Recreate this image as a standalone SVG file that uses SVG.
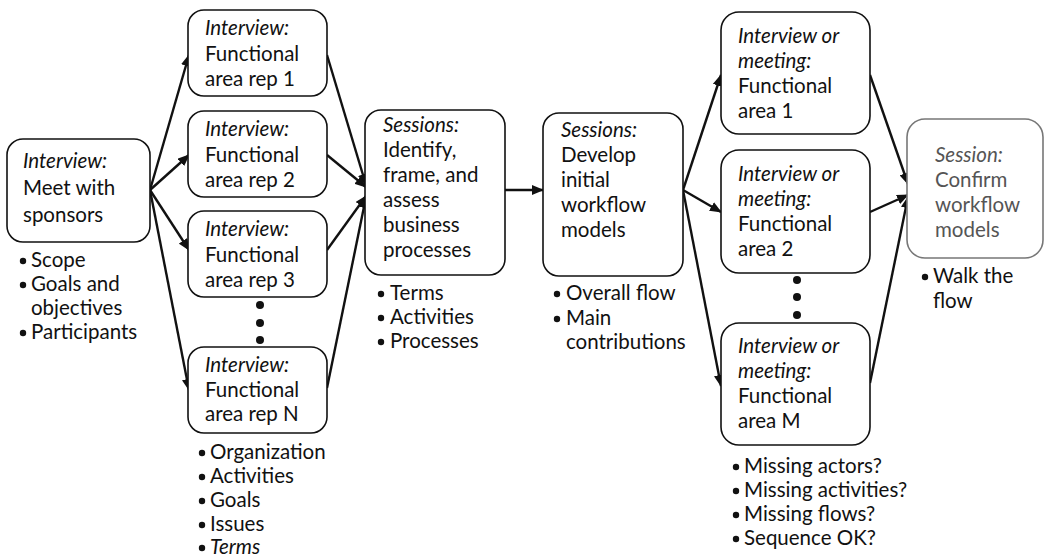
<svg xmlns="http://www.w3.org/2000/svg" width="1045" height="559" viewBox="0 0 1045 559">
  <defs>
    <marker id="arrow" viewBox="0 0 12 10" refX="11" refY="5" markerWidth="12" markerHeight="10" markerUnits="userSpaceOnUse" orient="auto">
      <path d="M0,0 L12,5 L0,10 z" fill="#111"/>
    </marker>
    <style>
      .box { fill: #fff; stroke: #111; stroke-width: 1.6; }
      .box.muted { stroke: #777; }
      text { font-family: Lato, "Open Sans", "DejaVu Sans", sans-serif; font-size: 20.5px; fill: #111; }
      .it { font-style: italic; }
      .muted text, text.muted { fill: #555; }
      .dot { fill: #111; }
      .conn line { stroke: #111; stroke-width: 2.4; marker-end: url(#arrow); }
    </style>
  </defs>

  <rect width="1045" height="559" fill="#fff"/>

  <!-- connectors -->
  <g id="connectors" class="conn">
    <line x1="150" y1="190" x2="189" y2="55"/>
    <line x1="150" y1="190" x2="189" y2="155"/>
    <line x1="150" y1="190" x2="189" y2="250"/>
    <line x1="150" y1="190" x2="189" y2="390"/>
    <line x1="327" y1="55" x2="366" y2="185"/>
    <line x1="327" y1="155" x2="366" y2="187"/>
    <line x1="327" y1="250" x2="366" y2="196"/>
    <line x1="327" y1="388" x2="366" y2="197"/>
    <line x1="505" y1="190" x2="543" y2="190"/>
    <line x1="683" y1="190" x2="721" y2="75"/>
    <line x1="683" y1="190" x2="721" y2="212"/>
    <line x1="683" y1="190" x2="721" y2="386"/>
    <line x1="870" y1="75" x2="908" y2="184"/>
    <line x1="870" y1="212" x2="908" y2="195"/>
    <line x1="870" y1="383" x2="908" y2="197"/>
  </g>

  <!-- kickoff with sponsors -->
  <g id="meet-sponsors">
    <rect class="box" x="7" y="139" width="143" height="103" rx="16"/>
    <text x="23" y="168" class="it">Interview:</text>
    <text x="23" y="195">Meet with</text>
    <text x="23" y="222">sponsors</text>
    <circle class="dot" cx="23" cy="261" r="3.2"/>
    <text x="31" y="267">Scope</text>
    <circle class="dot" cx="23" cy="285" r="3.2"/>
    <text x="31" y="291">Goals and</text>
    <text x="31" y="315">objectives</text>
    <circle class="dot" cx="23" cy="333" r="3.2"/>
    <text x="31" y="339">Participants</text>
  </g>

  <!-- interviews with functional area reps -->
  <g id="rep-1">
    <rect class="box" x="188" y="10" width="139" height="86" rx="16"/>
    <text x="205" y="35" class="it">Interview:</text>
    <text x="205" y="61">Functional</text>
    <text x="205" y="86">area rep 1</text>
  </g>
  <g id="rep-2">
    <rect class="box" x="188" y="111" width="139" height="86" rx="16"/>
    <text x="205" y="136" class="it">Interview:</text>
    <text x="205" y="162">Functional</text>
    <text x="205" y="187">area rep 2</text>
  </g>
  <g id="rep-3">
    <rect class="box" x="188" y="211" width="139" height="86" rx="16"/>
    <text x="205" y="236" class="it">Interview:</text>
    <text x="205" y="262">Functional</text>
    <text x="205" y="287">area rep 3</text>
  </g>
  <g id="rep-ellipsis">
    <circle class="dot" cx="260" cy="305" r="4"/>
    <circle class="dot" cx="260" cy="323" r="4"/>
    <circle class="dot" cx="260" cy="340" r="4"/>
  </g>
  <g id="rep-n">
    <rect class="box" x="188" y="347" width="139" height="86" rx="16"/>
    <text x="205" y="372" class="it">Interview:</text>
    <text x="205" y="397">Functional</text>
    <text x="205" y="421" fill="#333">area rep N</text>
    <circle class="dot" cx="202" cy="453" r="3.2"/>
    <text x="210" y="459">Organization</text>
    <circle class="dot" cx="202" cy="477" r="3.2"/>
    <text x="210" y="483">Activities</text>
    <circle class="dot" cx="202" cy="501" r="3.2"/>
    <text x="210" y="507">Goals</text>
    <circle class="dot" cx="202" cy="525" r="3.2"/>
    <text x="210" y="531">Issues</text>
    <circle class="dot" cx="202" cy="548" r="3.2"/>
    <text x="210" y="554" class="it">Terms</text>
  </g>

  <!-- process identification sessions -->
  <g id="identify-processes">
    <rect class="box" x="365" y="110" width="140" height="165" rx="16"/>
    <text x="383" y="132" class="it">Sessions:</text>
    <text x="383" y="157">Identify,</text>
    <text x="383" y="182">frame, and</text>
    <text x="383" y="207">assess</text>
    <text x="383" y="232">business</text>
    <text x="383" y="257">processes</text>
    <circle class="dot" cx="381" cy="294" r="3.2"/>
    <text x="390" y="300">Terms</text>
    <circle class="dot" cx="381" cy="318" r="3.2"/>
    <text x="390" y="324">Activities</text>
    <circle class="dot" cx="381" cy="342" r="3.2"/>
    <text x="390" y="348">Processes</text>
  </g>

  <!-- workflow modelling sessions -->
  <g id="develop-workflow">
    <rect class="box" x="543" y="113" width="140" height="163" rx="16"/>
    <text x="561" y="137" class="it">Sessions:</text>
    <text x="561" y="162">Develop</text>
    <text x="561" y="187">initial</text>
    <text x="561" y="212">workflow</text>
    <text x="561" y="237">models</text>
    <circle class="dot" cx="557" cy="294" r="3.2"/>
    <text x="566" y="300">Overall flow</text>
    <circle class="dot" cx="557" cy="319" r="3.2"/>
    <text x="566" y="325">Main</text>
    <text x="566" y="349">contributions</text>
  </g>

  <!-- reviews per functional area -->
  <g id="area-1">
    <rect class="box" x="721" y="12" width="149" height="122" rx="18"/>
    <text x="738" y="43" class="it">Interview or</text>
    <text x="738" y="68" class="it">meeting:</text>
    <text x="738" y="93">Functional</text>
    <text x="738" y="118">area 1</text>
  </g>
  <g id="area-2">
    <rect class="box" x="721" y="150" width="149" height="123" rx="18"/>
    <text x="738" y="181" class="it">Interview or</text>
    <text x="738" y="206" class="it">meeting:</text>
    <text x="738" y="231">Functional</text>
    <text x="738" y="256">area 2</text>
  </g>
  <g id="area-ellipsis">
    <circle class="dot" cx="797" cy="280" r="4"/>
    <circle class="dot" cx="797" cy="297" r="4"/>
    <circle class="dot" cx="797" cy="315" r="4"/>
  </g>
  <g id="area-m">
    <rect class="box" x="721" y="323" width="149" height="122" rx="18"/>
    <text x="738" y="353" class="it">Interview or</text>
    <text x="738" y="378" class="it">meeting:</text>
    <text x="738" y="403">Functional</text>
    <text x="738" y="428">area M</text>
    <circle class="dot" cx="736" cy="467" r="3.2"/>
    <text x="744" y="473">Missing actors?</text>
    <circle class="dot" cx="736" cy="491" r="3.2"/>
    <text x="744" y="497">Missing activities?</text>
    <circle class="dot" cx="736" cy="515" r="3.2"/>
    <text x="744" y="521">Missing flows?</text>
    <circle class="dot" cx="736" cy="539" r="3.2"/>
    <text x="744" y="545">Sequence OK?</text>
  </g>

  <!-- confirmation session -->
  <g id="confirm-models">
    <g class="muted">
      <rect class="box muted" x="907" y="119" width="136" height="139" rx="18"/>
      <text x="935" y="162" class="it">Session:</text>
      <text x="935" y="187">Confirm</text>
      <text x="935" y="212">workflow</text>
      <text x="935" y="237">models</text>
    </g>
    <circle class="dot" cx="925" cy="277" r="3.2"/>
    <text x="933" y="283">Walk the</text>
    <text x="933" y="308">flow</text>
  </g>
</svg>
